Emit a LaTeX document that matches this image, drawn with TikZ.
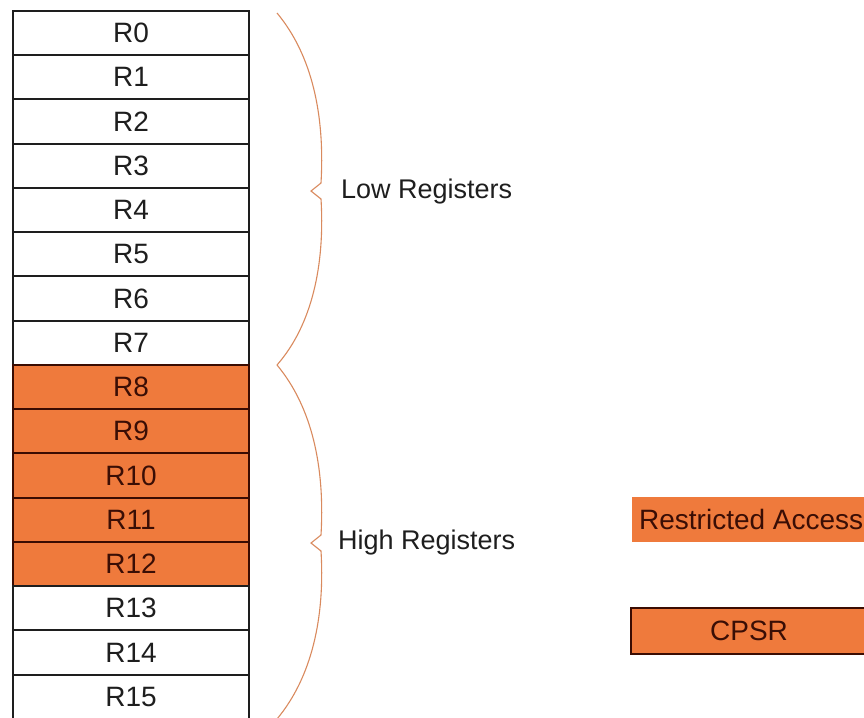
\documentclass[tikz,border=0pt]{standalone}
\usepackage{fontspec}
\setmainfont{Liberation Sans}
\usepackage{tikz}
\usetikzlibrary{positioning}
\usepackage{xcolor}
\definecolor{hiOrange}{HTML}{EF7A3C}
\definecolor{hiBorder}{HTML}{3A0C02}
\definecolor{hiText}{HTML}{3A0E05}
\definecolor{braceBrown}{HTML}{D98A5E}
\definecolor{loGray}{HTML}{1E1E1E}

\begin{document}
\begin{tikzpicture}[
    x=1pt, y=-1pt,
    reg/.style={rectangle, draw=loGray, line width=2pt, fill=white, minimum width=236pt, minimum height=44.25pt, outer sep=0pt, inner sep=0pt, text=loGray, font=\fontsize{28}{30}\selectfont},
    regHi/.style={reg, draw=hiBorder, fill=hiOrange, text=hiText},
    grp/.style={anchor=west, inner sep=0pt, text=loGray, font=\fontsize{27}{30}\selectfont},
    brc/.style={draw=braceBrown, line width=1.1pt, line join=miter},
]
    \useasboundingbox (0,0) rectangle (864,717);
    \clip (0,0) rectangle (864,717);
    % register column
    \foreach \i in {0,...,15}{
        \ifnum\i>7 \ifnum\i<13
            \node[regHi] (r\i) at (131, {33.1+44.25*\i}) {R\i};
        \else
            \node[reg] (r\i) at (131, {33.1+44.25*\i}) {R\i};
        \fi \else
            \node[reg] (r\i) at (131, {33.1+44.25*\i}) {R\i};
        \fi
    }
    % braces
    \draw[brc] (277,13) .. controls (312,55) and (325,115) .. (321,183) -- (311,191) -- (321,199) .. controls (325,265) and (312,325) .. (277,365);
    \draw[brc] (277,365) .. controls (312,407) and (325,467) .. (321,535) -- (311,543) -- (321,551) .. controls (325,617) and (312,677) .. (277,719);
    \node[grp] (low) at (341,192) {Low Registers};
    \node[grp] (high) at (338,543) {High Registers};
    % legend
    \node[rectangle, fill=hiOrange, minimum width=238pt, minimum height=45pt, inner sep=0pt, anchor=west, text=hiText, font=\fontsize{28}{30}\selectfont] (restr) at (632,519.5) {Restricted Access};
    \node[rectangle, draw=hiBorder, line width=2pt, fill=hiOrange, minimum width=236pt, minimum height=46pt, inner sep=0pt, anchor=west, text=hiText, font=\fontsize{28}{30}\selectfont] (cpsr) at (630,631) {CPSR};
\end{tikzpicture}
\end{document}
